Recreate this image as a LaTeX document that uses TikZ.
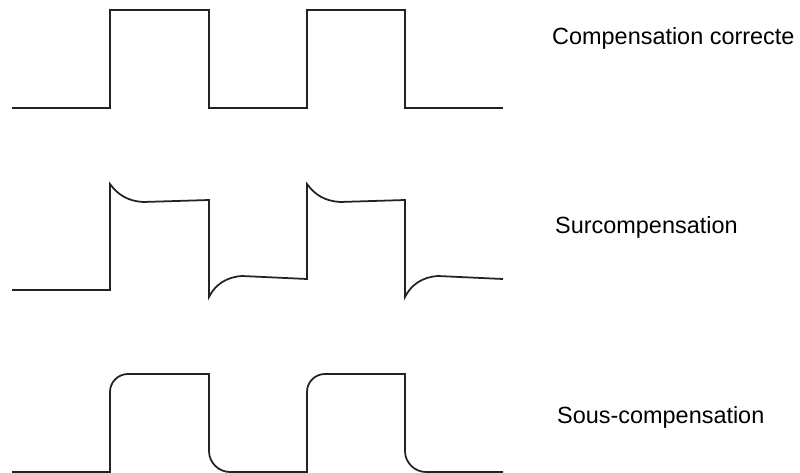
\documentclass[tikz,border=0pt]{standalone}
\usepackage{fontspec}
\setmainfont{Liberation Sans}
\usetikzlibrary{positioning}
\definecolor{TraceGray}{RGB}{35,35,35}
\tikzset{
  trace/.style={draw=TraceGray,line width=1.5pt,line join=miter},
  caption/.style={anchor=west,inner sep=0pt,font=\fontsize{20}{24}\selectfont}
}

\begin{document}
\begin{tikzpicture}[x=0.03cm,y=-0.03cm]
      \useasboundingbox (0,0) rectangle (800,473);
      % correct compensation
      \draw[trace] (12,108) -- (110,108) -- (110,10) -- (209,10) -- (209,108)
        -- (307,108) -- (307,10) -- (405,10) -- (405,108) -- (503,108);
      % overcompensation
      \draw[trace] (12,290) -- (110,290) -- (110,184)
        .. controls (118,195) and (128,201) .. (143,202) -- (209,200)
        -- (209,297) .. controls (215,285) and (226,277) .. (242,276) -- (307,279)
        -- (307,184) .. controls (315,195) and (325,201) .. (340,202) -- (405,200)
        -- (405,297) .. controls (411,285) and (422,277) .. (438,276) -- (503,279);
      % undercompensation
      \draw[trace] (12,472) -- (110,472) -- (110,392)
        .. controls (110,382) and (118,374) .. (128,374) -- (209,374)
        -- (209,451) .. controls (209,463) and (219,472) .. (230,472) -- (307,472)
        -- (307,392) .. controls (307,382) and (315,374) .. (325,374) -- (405,374)
        -- (405,451) .. controls (405,463) and (415,472) .. (426,472) -- (503,472);
      \node[caption] (correct) at (552,38) {Compensation correcte};
      \node[caption] (over) at (555,227) {Surcompensation};
      \node[caption] (under) at (557,417) {Sous-compensation};
    \end{tikzpicture}
\end{document}
